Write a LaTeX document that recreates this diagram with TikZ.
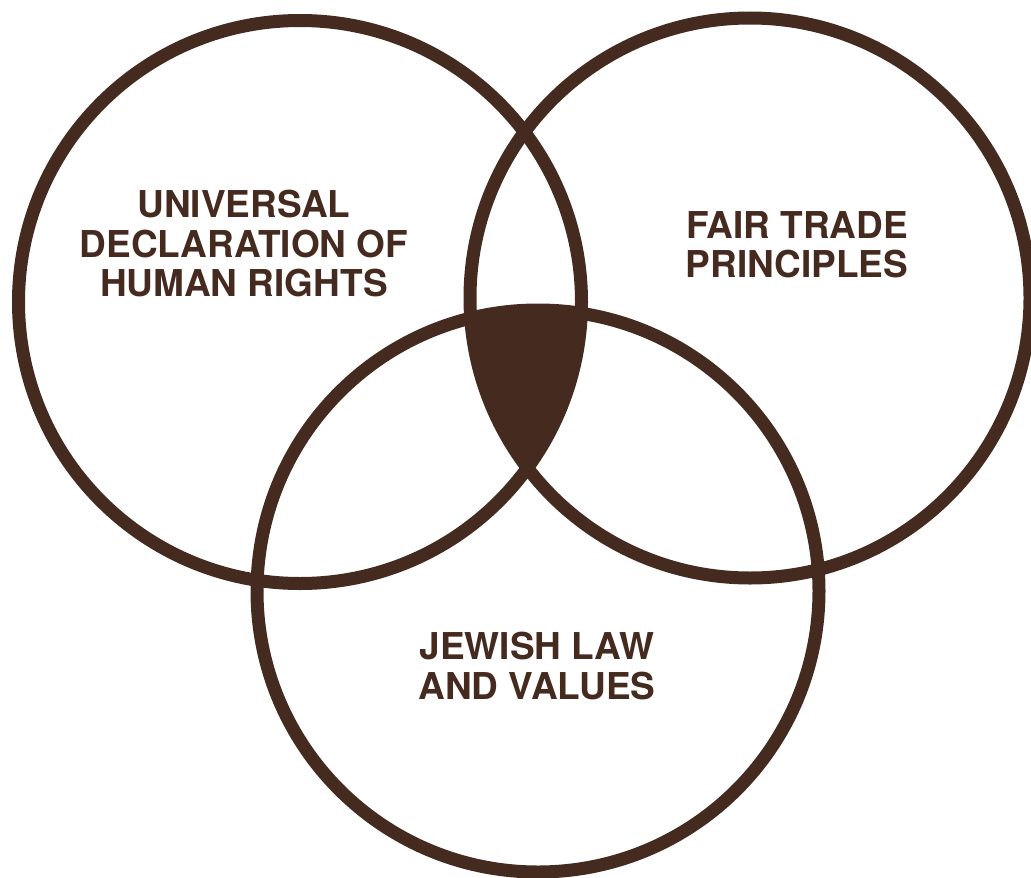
\documentclass[tikz,border=0pt]{standalone}
\usepackage{fontspec}
\setmainfont{TeX Gyre Heros}
\definecolor{cocoa}{HTML}{452A20}
\begin{document}
\begin{tikzpicture}[x=1pt,y=-1pt,
  ring/.style={draw=cocoa, line width=13pt},
  caption/.style={text=cocoa, font=\fontsize{37}{39.5}\selectfont\bfseries,
    align=center, inner sep=0pt, anchor=north}]
\useasboundingbox (0,0) rectangle (1031,878);
% circle centres
\coordinate (cl) at (300,302);
\coordinate (cr) at (750,298);
\coordinate (cb) at (538,591);
% region shared by all three sets
\begin{scope}
  \clip (cl) circle[radius=281.5];
  \clip (cr) circle[radius=280];
  \fill[cocoa] (cb) circle[radius=281];
\end{scope}
% the three sets
\draw[ring] (cl) circle[radius=281.5];
\draw[ring] (cr) circle[radius=280];
\draw[ring] (cb) circle[radius=281];
% labels
\node[caption] (udhr) at (244,190) {UNIVERSAL\\DECLARATION OF\\HUMAN RIGHTS};
\node[caption] (fair) at (797,211) {FAIR TRADE\\PRINCIPLES};
\node[caption] (jewish) at (537,632) {JEWISH LAW\\AND VALUES};
\end{tikzpicture}
\end{document}
